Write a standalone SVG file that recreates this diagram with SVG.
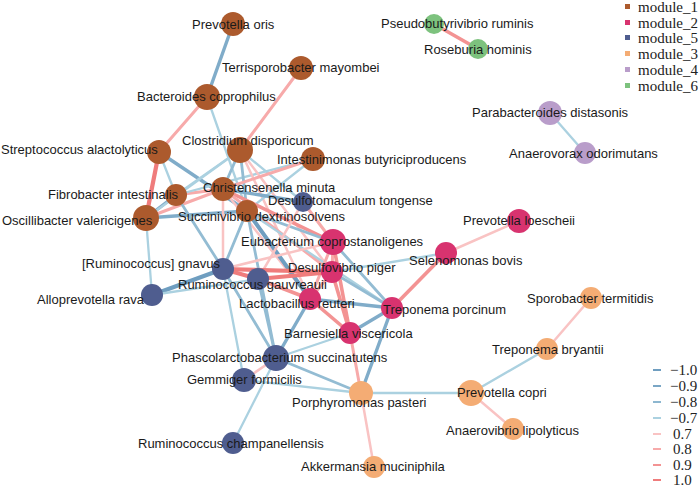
<svg xmlns="http://www.w3.org/2000/svg" width="700" height="487" viewBox="0 0 700 487">
<style>
.e{fill:none;stroke-linecap:round}
.n1{stroke:#6F9EC0;stroke-width:4}
.n2{stroke:#80ACC9;stroke-width:3.4}
.n3{stroke:#93BCD3;stroke-width:2.8}
.n4{stroke:#ABD1E0;stroke-width:2.3}
.p1{stroke:#F9C3C3;stroke-width:2.5}
.p2{stroke:#F7AAAA;stroke-width:3}
.p3{stroke:#F39393;stroke-width:3.6}
.p4{stroke:#EF7C7C;stroke-width:4.2}
.m1{fill:#AC5A2D}.m2{fill:#D8336F}.m5{fill:#4F5D8F}.m3{fill:#F4AC74}.m4{fill:#B99DCA}.m6{fill:#7DC27E}
text{font-family:"Liberation Sans",Arial,sans-serif;font-size:13px;fill:#1a1a1a}
.lg{font-family:"Liberation Serif","Times New Roman",serif;font-size:15px;fill:#222}
.lw{font-family:"Liberation Serif","Times New Roman",serif;font-size:15px;fill:#222}
</style>
<g id="connectors">
<line class="e n2" x1="233" y1="24" x2="207" y2="97"/>
<line class="e p2" x1="207" y1="97" x2="159" y2="152"/>
<line class="e n4" x1="207" y1="97" x2="247" y2="211"/>
<line class="e p2" x1="301" y1="68" x2="240" y2="150"/>
<line class="e p4" x1="159" y1="152" x2="146" y2="218"/>
<line class="e n2" x1="159" y1="152" x2="247" y2="211"/>
<line class="e n4" x1="159" y1="152" x2="176" y2="195"/>
<line class="e n2" x1="146" y1="218" x2="176" y2="195"/>
<line class="e p2" x1="146" y1="218" x2="223" y2="189"/>
<line class="e n2" x1="146" y1="218" x2="247" y2="211"/>
<line class="e n4" x1="146" y1="218" x2="152" y2="295"/>
<line class="e n3" x1="176" y1="195" x2="223" y2="269"/>
<line class="e p2" x1="176" y1="195" x2="223" y2="189"/>
<line class="e n4" x1="176" y1="195" x2="240" y2="150"/>
<line class="e n4" x1="146" y1="218" x2="240" y2="150"/>
<line class="e n4" x1="176" y1="195" x2="313" y2="159"/>
<line class="e n3" x1="240" y1="150" x2="223" y2="189"/>
<line class="e n3" x1="240" y1="150" x2="247" y2="211"/>
<line class="e p1" x1="240" y1="150" x2="332" y2="272"/>
<line class="e p1" x1="240" y1="150" x2="310" y2="299"/>
<line class="e n4" x1="240" y1="150" x2="303" y2="202"/>
<line class="e p2" x1="313" y1="159" x2="223" y2="189"/>
<line class="e n4" x1="313" y1="159" x2="247" y2="211"/>
<line class="e p3" x1="223" y1="189" x2="333" y2="242"/>
<line class="e p2" x1="223" y1="189" x2="332" y2="272"/>
<line class="e p1" x1="223" y1="189" x2="310" y2="299"/>
<line class="e p1" x1="223" y1="189" x2="223" y2="269"/>
<line class="e n2" x1="223" y1="189" x2="303" y2="202"/>
<line class="e n3" x1="247" y1="211" x2="333" y2="242"/>
<line class="e n1" x1="247" y1="211" x2="310" y2="299"/>
<line class="e n3" x1="247" y1="211" x2="276" y2="358"/>
<line class="e n4" x1="247" y1="211" x2="392" y2="308"/>
<line class="e n3" x1="247" y1="211" x2="223" y2="269"/>
<line class="e p2" x1="303" y1="202" x2="333" y2="242"/>
<line class="e p1" x1="303" y1="202" x2="258" y2="279"/>
<line class="e p2" x1="333" y1="242" x2="332" y2="272"/>
<line class="e p2" x1="333" y1="242" x2="310" y2="299"/>
<line class="e n3" x1="333" y1="242" x2="392" y2="308"/>
<line class="e p3" x1="333" y1="242" x2="350" y2="333"/>
<line class="e p1" x1="333" y1="242" x2="223" y2="269"/>
<line class="e n4" x1="332" y1="272" x2="446" y2="253"/>
<line class="e n3" x1="332" y1="272" x2="392" y2="308"/>
<line class="e p3" x1="332" y1="272" x2="350" y2="333"/>
<line class="e p2" x1="332" y1="272" x2="310" y2="299"/>
<line class="e p4" x1="332" y1="272" x2="223" y2="269"/>
<line class="e p4" x1="332" y1="272" x2="258" y2="279"/>
<line class="e p1" x1="446" y1="253" x2="519" y2="221"/>
<line class="e p3" x1="446" y1="253" x2="392" y2="308"/>
<line class="e n2" x1="310" y1="299" x2="392" y2="308"/>
<line class="e p3" x1="310" y1="299" x2="350" y2="333"/>
<line class="e n2" x1="310" y1="299" x2="276" y2="358"/>
<line class="e p3" x1="310" y1="299" x2="258" y2="279"/>
<line class="e n2" x1="392" y1="308" x2="350" y2="333"/>
<line class="e n2" x1="392" y1="308" x2="361" y2="393"/>
<line class="e p2" x1="350" y1="333" x2="361" y2="393"/>
<line class="e n4" x1="350" y1="333" x2="276" y2="358"/>
<line class="e p4" x1="223" y1="269" x2="258" y2="279"/>
<line class="e n1" x1="223" y1="269" x2="152" y2="295"/>
<line class="e n3" x1="223" y1="269" x2="276" y2="358"/>
<line class="e n4" x1="223" y1="269" x2="244" y2="380"/>
<line class="e n3" x1="258" y1="279" x2="276" y2="358"/>
<line class="e n4" x1="258" y1="279" x2="152" y2="295"/>
<line class="e p1" x1="276" y1="358" x2="244" y2="380"/>
<line class="e n3" x1="276" y1="358" x2="361" y2="393"/>
<line class="e n4" x1="276" y1="358" x2="233" y2="443"/>
<line class="e n4" x1="244" y1="380" x2="361" y2="393"/>
<line class="e n4" x1="361" y1="393" x2="471" y2="393"/>
<line class="e p1" x1="361" y1="393" x2="374" y2="467"/>
<line class="e n4" x1="471" y1="393" x2="547" y2="349"/>
<line class="e p1" x1="471" y1="393" x2="513" y2="429"/>
<line class="e p1" x1="547" y1="349" x2="591" y2="298"/>
<line class="e p3" x1="434" y1="24" x2="478" y2="49"/>
<line class="e n4" x1="550" y1="113" x2="585" y2="153"/>
</g>
<g id="nodes">
<g id="n-prevotella-oris"><circle class="m1" cx="233" cy="24" r="12"/><text x="192" y="29">Prevotella oris</text></g>
<g id="n-terrisporobacter"><circle class="m1" cx="301" cy="68" r="12"/><text x="222" y="72">Terrisporobacter mayombei</text></g>
<g id="n-bacteroides"><circle class="m1" cx="207" cy="97" r="13"/><text x="137" y="101">Bacteroides coprophilus</text></g>
<g id="n-streptococcus"><circle class="m1" cx="159" cy="152" r="12"/><text x="1" y="154">Streptococcus alactolyticus</text></g>
<g id="n-clostridium"><circle class="m1" cx="240" cy="150" r="13"/><text x="182" y="145">Clostridium disporicum</text></g>
<g id="n-intestinimonas"><circle class="m1" cx="313" cy="159" r="12"/><text x="277" y="164">Intestinimonas butyriciproducens</text></g>
<g id="n-christensenella"><circle class="m1" cx="223" cy="189" r="12"/><text x="203" y="192">Christensenella minuta</text></g>
<g id="n-fibrobacter"><circle class="m1" cx="176" cy="195" r="11"/><text x="48" y="199">Fibrobacter intestinalis</text></g>
<g id="n-oscillibacter"><circle class="m1" cx="146" cy="218" r="13"/><text x="2" y="225">Oscillibacter valericigenes</text></g>
<g id="n-succinivibrio"><circle class="m1" cx="247" cy="211" r="11"/><text x="178" y="221">Succinivibrio dextrinosolvens</text></g>
<g id="n-desulfotomaculum"><circle class="m5" cx="303" cy="202" r="10"/><text x="268" y="205">Desulfotomaculum tongense</text></g>
<g id="n-eubacterium"><circle class="m2" cx="333" cy="242" r="13"/><text x="241" y="246">Eubacterium coprostanoligenes</text></g>
<g id="n-desulfovibrio"><circle class="m2" cx="332" cy="272" r="11"/><text x="288" y="272">Desulfovibrio piger</text></g>
<g id="n-selenomonas"><circle class="m2" cx="446" cy="253" r="11"/><text x="409" y="265">Selenomonas bovis</text></g>
<g id="n-prevotella-loescheii"><circle class="m2" cx="519" cy="221" r="12"/><text x="463" y="225">Prevotella loescheii</text></g>
<g id="n-gnavus"><circle class="m5" cx="223" cy="269" r="11"/><text x="82" y="268">[Ruminococcus] gnavus</text></g>
<g id="n-gauvreauii"><circle class="m5" cx="258" cy="279" r="11"/><text x="178" y="289">Ruminococcus gauvreauii</text></g>
<g id="n-alloprevotella"><circle class="m5" cx="152" cy="295" r="11"/><text x="37" y="304">Alloprevotella rava</text></g>
<g id="n-lactobacillus"><circle class="m2" cx="310" cy="299" r="11"/><text x="239" y="308">Lactobacillus reuteri</text></g>
<g id="n-treponema-porcinum"><circle class="m2" cx="392" cy="308" r="11"/><text x="383" y="314">Treponema porcinum</text></g>
<g id="n-barnesiella"><circle class="m2" cx="350" cy="333" r="11"/><text x="284" y="338">Barnesiella viscericola</text></g>
<g id="n-phascolarcto"><circle class="m5" cx="276" cy="358" r="13"/><text x="172" y="362">Phascolarctobacterium succinatutens</text></g>
<g id="n-gemmiger"><circle class="m5" cx="244" cy="380" r="12"/><text x="187" y="384">Gemmiger formicilis</text></g>
<g id="n-porphyromonas"><circle class="m3" cx="361" cy="393" r="12"/><text x="292" y="407">Porphyromonas pasteri</text></g>
<g id="n-prevotella-copri"><circle class="m3" cx="471" cy="393" r="13"/><text x="457" y="397">Prevotella copri</text></g>
<g id="n-treponema-bryantii"><circle class="m3" cx="547" cy="349" r="11"/><text x="492" y="354">Treponema bryantii</text></g>
<g id="n-sporobacter"><circle class="m3" cx="591" cy="298" r="11"/><text x="527" y="303">Sporobacter termitidis</text></g>
<g id="n-anaerovibrio"><circle class="m3" cx="513" cy="429" r="11"/><text x="446" y="435">Anaerovibrio lipolyticus</text></g>
<g id="n-akkermansia"><circle class="m3" cx="374" cy="467" r="11"/><text x="301" y="471">Akkermansia muciniphila</text></g>
<g id="n-champanellensis"><circle class="m5" cx="233" cy="443" r="11"/><text x="138" y="448">Ruminococcus champanellensis</text></g>
<g id="n-pseudobutyrivibrio"><circle class="m6" cx="434" cy="24" r="10"/><text x="381" y="28">Pseudobutyrivibrio ruminis</text></g>
<g id="n-roseburia"><circle class="m6" cx="478" cy="49" r="10"/><text x="424" y="54">Roseburia hominis</text></g>
<g id="n-parabacteroides"><circle class="m4" cx="550" cy="113" r="12"/><text x="472" y="117">Parabacteroides distasonis</text></g>
<g id="n-anaerovorax"><circle class="m4" cx="585" cy="153" r="11"/><text x="509" y="158">Anaerovorax odorimutans</text></g>
</g>
<g id="legend-modules">
<rect class="m1" x="625" y="4" width="5" height="5"/><text class="lg" x="638" y="12">module_1</text>
<rect class="m2" x="625" y="20" width="5" height="5"/><text class="lg" x="638" y="28">module_2</text>
<rect class="m5" x="625" y="35" width="5" height="5"/><text class="lg" x="638" y="43">module_5</text>
<rect class="m3" x="625" y="51" width="5" height="5"/><text class="lg" x="638" y="59">module_3</text>
<rect class="m4" x="625" y="67" width="5" height="5"/><text class="lg" x="638" y="75">module_4</text>
<rect class="m6" x="625" y="83" width="5" height="5"/><text class="lg" x="638" y="91">module_6</text>
</g>
<g id="legend-weights">
<line x1="653" y1="370" x2="661" y2="370" stroke="#6F9EC0" stroke-width="2"/><text class="lw" x="670" y="375">−1.0</text>
<line x1="653" y1="386" x2="661" y2="386" stroke="#7AA6C5" stroke-width="2"/><text class="lw" x="670" y="391">−0.9</text>
<line x1="653" y1="402" x2="661" y2="402" stroke="#8DB7D0" stroke-width="2"/><text class="lw" x="670" y="407">−0.8</text>
<line x1="653" y1="418" x2="661" y2="418" stroke="#ABD1E0" stroke-width="2"/><text class="lw" x="670" y="423">−0.7</text>
<line x1="653" y1="434" x2="661" y2="434" stroke="#F9C3C3" stroke-width="2"/><text class="lw" x="673" y="439">0.7</text>
<line x1="653" y1="449" x2="661" y2="449" stroke="#F7AAAA" stroke-width="2"/><text class="lw" x="673" y="454">0.8</text>
<line x1="653" y1="465" x2="661" y2="465" stroke="#F39393" stroke-width="2"/><text class="lw" x="673" y="470">0.9</text>
<line x1="653" y1="480" x2="661" y2="480" stroke="#EF7C7C" stroke-width="2"/><text class="lw" x="673" y="485">1.0</text>
</g>
</svg>
